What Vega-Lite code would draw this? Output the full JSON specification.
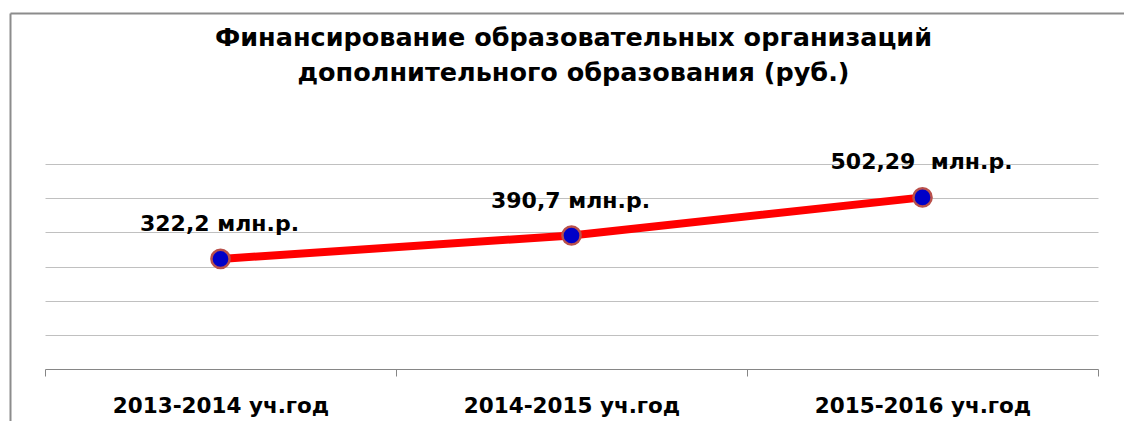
{
  "$schema": "https://vega.github.io/schema/vega-lite/v6.json",
  "width": 1053,
  "height": 205,
  "autosize": "none",
  "padding": {"left": 45, "top": 164, "right": 26, "bottom": 52},
  "background": "white",
  "title": {
    "text": ["Финансирование образовательных организаций", "дополнительного образования (руб.)"],
    "font": "DejaVu Sans",
    "fontSize": 25.5,
    "fontWeight": "bold",
    "color": "black",
    "anchor": "middle",
    "lineHeight": 35,
    "offset": -73,
    "dx": 2
  },
  "config": {"view": {"stroke": null}},
  "data": {
    "values": [
      {"year": "2013-2014 уч.год", "value": 322.2, "label": "322,2 млн.р."},
      {"year": "2014-2015 уч.год", "value": 390.7, "label": "390,7 млн.р."},
      {"year": "2015-2016 уч.год", "value": 502.29, "label": "502,29 \u00a0млн.р."}
    ]
  },
  "layer": [
    {
      "mark": {"type": "point", "opacity": 0},
      "encoding": {
        "x": {
          "datum": 0,
          "type": "quantitative",
          "scale": {"domain": [0, 1], "range": [-35, 1120]},
          "axis": {"orient": "top", "offset": 151, "domainColor": "#8c8c8c", "domainWidth": 2, "ticks": false, "labels": false, "grid": false, "title": null}
        },
        "y": {
          "datum": 0,
          "type": "quantitative",
          "scale": {"domain": [0, 1], "range": [300, -151]},
          "axis": {"orient": "left", "offset": 35, "domainColor": "#8c8c8c", "domainWidth": 2, "ticks": false, "labels": false, "grid": false, "title": null}
        }
      }
    },
    {
      "encoding": {
        "x": {
          "field": "year",
          "type": "nominal",
          "sort": null,
          "scale": {"type": "band", "paddingInner": 0, "paddingOuter": 0},
          "axis": {
            "orient": "bottom",
            "title": null,
            "grid": false,
            "domainColor": "#868686",
            "domainWidth": 1,
            "tickColor": "#868686",
            "tickSize": 7,
            "tickBand": "extent",
            "labelFont": "DejaVu Sans",
            "labelFontSize": 21.5,
            "labelFontWeight": "bold",
            "labelColor": "black",
            "labelAngle": 0,
            "labelBaseline": "alphabetic",
            "labelPadding": 36,
            "labelLimit": 0
          }
        },
        "y": {
          "field": "value",
          "type": "quantitative",
          "scale": {"domain": [0, 600], "nice": false},
          "axis": {
            "orient": "left",
            "title": null,
            "grid": true,
            "gridColor": "#c0c0c0",
            "gridWidth": 1,
            "domain": false,
            "ticks": false,
            "labels": false,
            "values": [100, 200, 300, 400, 500, 600]
          }
        }
      },
      "layer": [
        {"mark": {"type": "line", "color": "#ff0000", "strokeWidth": 8}},
        {"mark": {"type": "point", "filled": true, "fill": "#0000c8", "stroke": "#b9504b", "strokeWidth": 2.5, "size": 330, "opacity": 1}},
        {
          "mark": {"type": "text", "font": "DejaVu Sans", "fontSize": 22, "fontWeight": "bold", "color": "black", "baseline": "alphabetic", "dy": -28, "dx": -1},
          "encoding": {"text": {"field": "label"}}
        }
      ]
    }
  ],
  "resolve": {"scale": {"x": "independent", "y": "independent"}}
}
